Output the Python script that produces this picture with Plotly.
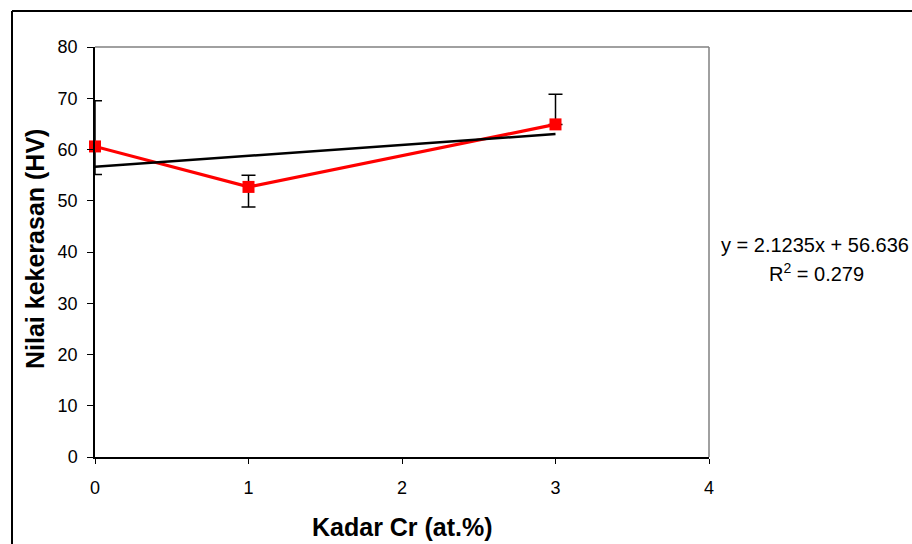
import plotly.graph_objects as go

# Data
cr_content = [0, 1, 3]
hardness = [60.6, 52.7, 64.9]
err_plus = [8.9, 2.3, 5.9]
err_minus = [5.5, 3.9, 0.0]
slope = 2.1235
intercept = 56.636
r2 = 0.279
trend_x = [0, 3]
trend_y = [slope * x + intercept for x in trend_x]

x_ticks = [0, 1, 2, 3, 4]
y_ticks = [0, 10, 20, 30, 40, 50, 60, 70, 80]

L, R, T, B = 95, 203, 47, 87
W, H = 912, 544
pw, ph = W - L - R, H - T - B

def px(x):
    return (x - L) / pw

def py(y):
    return (H - B - y) / ph

fig = go.Figure()
fig.add_trace(go.Scatter(
    x=cr_content, y=hardness, mode="lines+markers",
    line=dict(color="#FF0000", width=3.2),
    marker=dict(symbol="square", size=12, color="#FF0000"),
    error_y=dict(type="data", symmetric=False, array=err_plus, arrayminus=err_minus,
                 color="black", thickness=1.5, width=7),
    showlegend=False, cliponaxis=False,
))
fig.add_trace(go.Scatter(
    x=trend_x, y=trend_y, mode="lines",
    line=dict(color="black", width=2.5),
    showlegend=False, cliponaxis=False,
))

font = "Liberation Sans, Arial, sans-serif"
fig.update_layout(
    width=W, height=H,
    margin=dict(l=L, r=R, t=T, b=B),
    paper_bgcolor="white", plot_bgcolor="white",
    font=dict(family=font, size=18, color="black"),
    xaxis=dict(range=[0, 4], tickvals=x_ticks, showgrid=False, zeroline=False,
               showline=True, linecolor="black", linewidth=1.5,
               ticks="outside", ticklen=5, tickcolor="black", tickwidth=1,
               ticklabelstandoff=9,
               tickfont=dict(size=18, family=font)),
    yaxis=dict(range=[0, 80], tickvals=y_ticks, showgrid=False, zeroline=False,
               showline=True, linecolor="black", linewidth=1.5,
               ticks="outside", ticklen=6, tickcolor="black", tickwidth=1,
               ticklabelstandoff=6,
               tickfont=dict(size=18, family=font)),
    shapes=[
        dict(type="line", xref="paper", yref="paper", x0=0, x1=1, y0=1, y1=1,
             line=dict(color="#808080", width=1.5)),
        dict(type="line", xref="paper", yref="paper", x0=1, x1=1, y0=0, y1=1,
             line=dict(color="#808080", width=1.5)),
        dict(type="line", xref="paper", yref="paper", x0=px(12), x1=px(W + 5), y0=py(11), y1=py(11),
             line=dict(color="black", width=2)),
        dict(type="line", xref="paper", yref="paper", x0=px(12), x1=px(12), y0=py(11), y1=py(H + 5),
             line=dict(color="black", width=2)),
    ],
    annotations=[
        dict(text="<b>Nilai kekerasan (HV)</b>", xref="paper", yref="paper",
             x=px(35), y=py(249), textangle=-90, showarrow=False,
             font=dict(size=25, family=font), xanchor="center", yanchor="middle"),
        dict(text="<b>Kadar Cr (at.%)</b>", xref="paper", yref="paper",
             x=px(402), y=py(527), showarrow=False,
             font=dict(size=25, family=font), xanchor="center", yanchor="middle"),
        dict(text=f"y = {slope}x + {intercept}", xref="paper", yref="paper",
             x=px(815), y=py(245), showarrow=False,
             font=dict(size=20, family=font), xanchor="center", yanchor="middle"),
        dict(text=f"R<sup>2</sup> = {r2}", xref="paper", yref="paper",
             x=px(816), y=py(272), showarrow=False,
             font=dict(size=20, family=font), xanchor="center", yanchor="middle"),
    ],
)

fig.write_html("out.html")
